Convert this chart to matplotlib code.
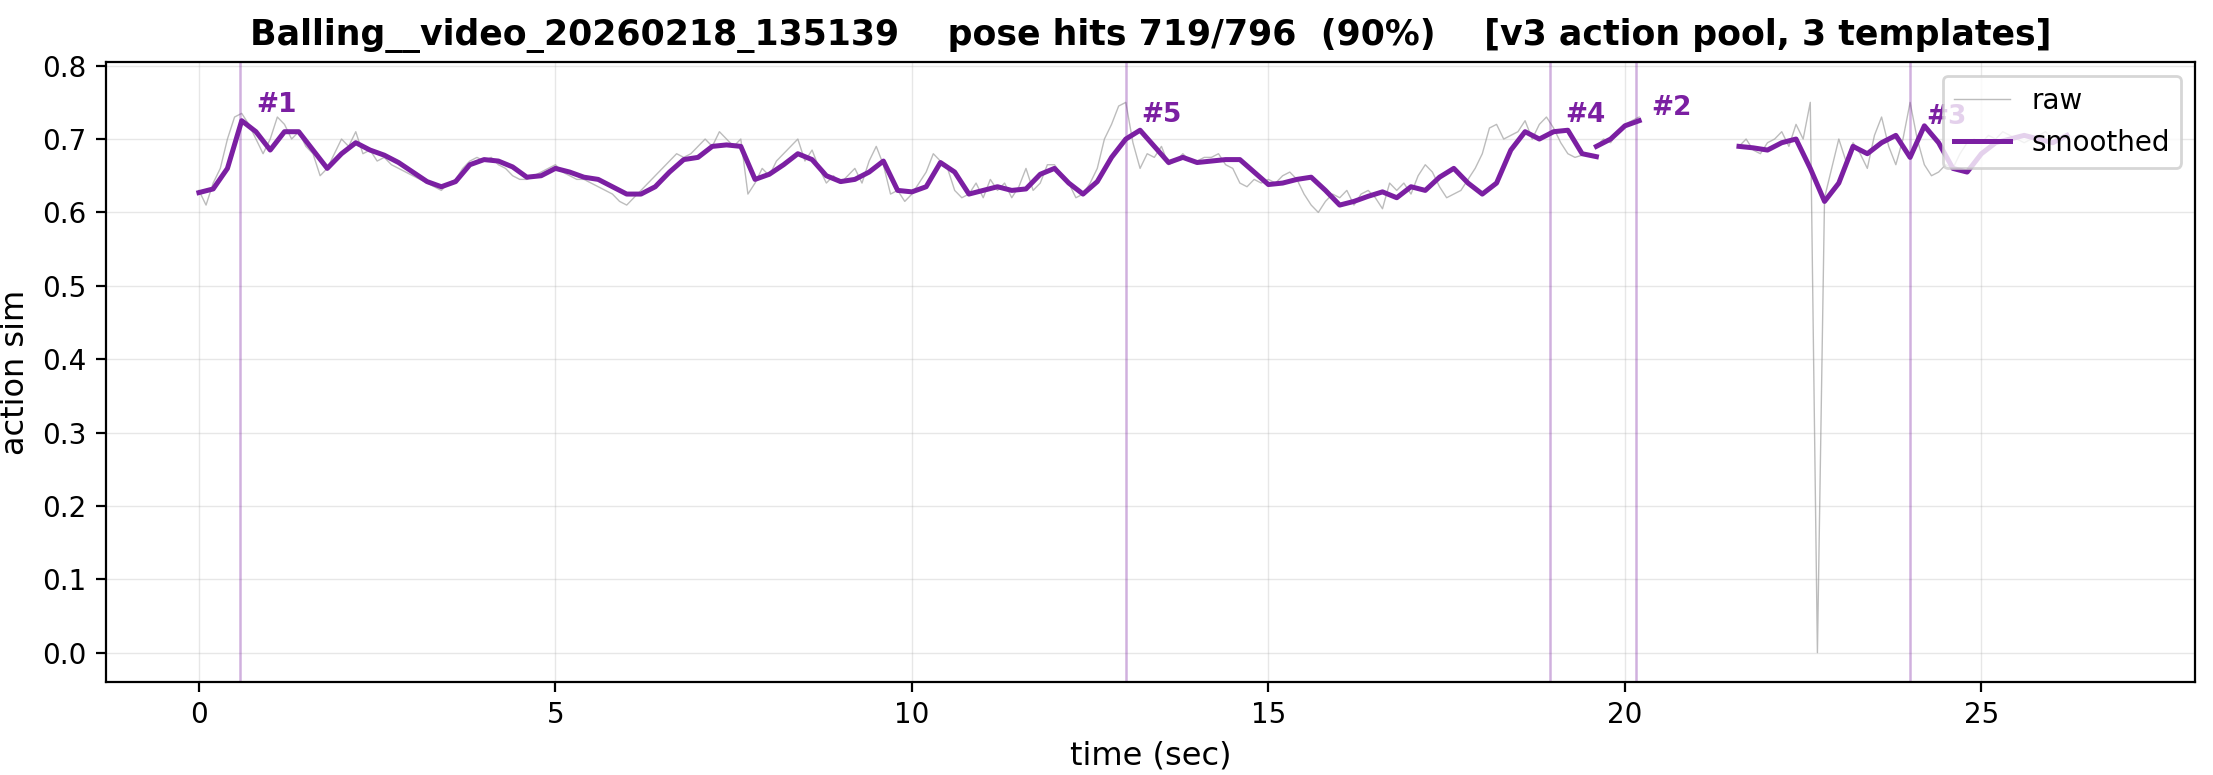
import numpy as np
import matplotlib
matplotlib.use("Agg")
import matplotlib.pyplot as plt

title = "Balling__video_20260218_135139    pose hits 719/796  (90%)    [v3 action pool, 3 templates]"

# smoothed segments (0.2 s steps)
sm1_t0, sm1 = 0.0, [0.627,0.632,0.66,0.725,0.71,0.685,0.71,0.71,0.685,0.66,0.68,0.695,0.685,0.678,0.668,0.655,0.642,0.635,0.642,0.665,
    0.672,0.67,0.662,0.648,0.65,0.66,0.655,0.648,0.645,0.635,0.625,0.625,0.635,0.655,0.672,0.675,0.69,0.692,0.69,0.645,
    0.652,0.665,0.68,0.672,0.65,0.642,0.645,0.655,0.67,0.63,0.628,0.635,0.668,0.655,0.625,0.63,0.635,0.63,0.632,0.652,
    0.66,0.64,0.625,0.642,0.675,0.7,0.712,0.69,0.668,0.675,0.668,0.67,0.672,0.672,0.655,0.638,0.64,0.645,0.648,0.63,
    0.61,0.615,0.622,0.628,0.62,0.635,0.63,0.648,0.66,0.64,0.625,0.64,0.685,0.71,0.7,0.71,0.712,0.68,0.676]
sm2_t0, sm2 = 19.6, [0.69,0.7,0.718,0.725]
sm3_t0, sm3 = 21.6, [0.69,0.688,0.685,0.695,0.7,0.66,0.615,0.64,0.69,0.68,0.695,0.705,0.675,0.718,0.695,0.66,0.655,0.68,0.695,0.7,0.705,0.7,0.695,0.705]

# raw segments (0.1 s steps)
raw1_t0, raw1 = 0.0, [0.63,0.61,0.64,0.66,0.70,0.73,0.735,0.72,0.70,0.68,
    0.70,0.73,0.72,0.70,0.71,0.69,0.68,0.65,0.66,0.68,
    0.70,0.69,0.71,0.68,0.685,0.67,0.675,0.665,0.66,0.655,
    0.65,0.645,0.64,0.635,0.63,0.64,0.645,0.66,0.67,0.675,
    0.67,0.675,0.665,0.66,0.65,0.645,0.645,0.65,0.655,0.66,
    0.665,0.655,0.65,0.645,0.645,0.64,0.635,0.63,0.625,0.615,
    0.61,0.62,0.63,0.64,0.65,0.66,0.67,0.68,0.675,0.68,
    0.69,0.70,0.69,0.71,0.70,0.69,0.70,0.625,0.64,0.66,
    0.65,0.67,0.68,0.69,0.70,0.67,0.685,0.66,0.64,0.65,
    0.64,0.65,0.66,0.64,0.67,0.69,0.665,0.625,0.63,0.615,
    0.625,0.64,0.655,0.68,0.67,0.66,0.63,0.62,0.625,0.64,
    0.62,0.645,0.63,0.64,0.62,0.635,0.66,0.63,0.64,0.665,
    0.665,0.65,0.64,0.62,0.625,0.64,0.66,0.70,0.72,0.745,
    0.75,0.695,0.66,0.68,0.675,0.69,0.665,0.67,0.68,0.67,
    0.67,0.675,0.675,0.68,0.665,0.66,0.64,0.635,0.645,0.64,
    0.645,0.64,0.65,0.655,0.645,0.625,0.61,0.60,0.615,0.625,
    0.62,0.63,0.61,0.625,0.63,0.62,0.605,0.64,0.63,0.64,
    0.625,0.65,0.665,0.655,0.635,0.62,0.625,0.63,0.645,0.66,
    0.68,0.715,0.72,0.70,0.705,0.71,0.725,0.70,0.72,0.73,
    0.715,0.695,0.68,0.675,0.678]
raw2_t0, raw2 = 19.6, [0.69,0.70,0.695,0.71,0.72,0.725,0.73]
raw3_t0, raw3 = 21.6, [0.69,0.70,0.685,0.68,0.695,0.70,0.71,0.69,0.72,0.70,
    0.75,0.0,0.62,0.66,0.70,0.67,0.695,0.68,0.66,0.705,
    0.73,0.69,0.665,0.70,0.75,0.70,0.665,0.65,0.655,0.665,
    0.66,0.68,0.695,0.70,0.695,0.705,0.70,0.71,0.705,0.70,
    0.695,0.70,0.705,0.71,0.70]

event_labels = ["#1", "#5", "#4", "#2", "#3"]
event_times = [0.58, 13.0, 18.95, 20.15, 24.0]
event_label_y = [0.728, 0.715, 0.715, 0.725, 0.713]

purple = "#7b1fa2"
fig, ax = plt.subplots(figsize=(11.065, 3.875), dpi=200)

first = True
for t0, vals in [(raw1_t0, raw1), (raw2_t0, raw2), (raw3_t0, raw3)]:
    t = t0 + 0.1 * np.arange(len(vals))
    ax.plot(t, vals, color="#999999", lw=0.5, alpha=0.65, label="raw" if first else None)
    first = False
first = True
for t0, vals in [(sm1_t0, sm1), (sm2_t0, sm2), (sm3_t0, sm3)]:
    t = t0 + 0.2 * np.arange(len(vals))
    ax.plot(t, vals, color=purple, lw=1.8, label="smoothed" if first else None)
    first = False

for lab, et, ly in zip(event_labels, event_times, event_label_y):
    ax.axvline(et, color=purple, alpha=0.35, lw=0.9)
    ax.text(et + 0.22, ly, lab, color=purple, fontsize=9.5, fontweight="bold", va="bottom")

ax.set_xlim(-1.3, 28.0)
ax.set_ylim(-0.04, 0.805)
ax.set_yticks(np.arange(0, 0.81, 0.1))
ax.grid(True, alpha=0.3, lw=0.5)
ax.tick_params(labelsize=10)
ax.set_xlabel("time (sec)", fontsize=11.5)
ax.set_ylabel("action sim", fontsize=11.5)
ax.set_title(title, fontsize=12.5, fontweight="bold")
ax.legend(loc="upper right", fontsize=10)
fig.subplots_adjust(left=0.048, right=0.992, top=0.92, bottom=0.12)
fig.savefig("out.png")
